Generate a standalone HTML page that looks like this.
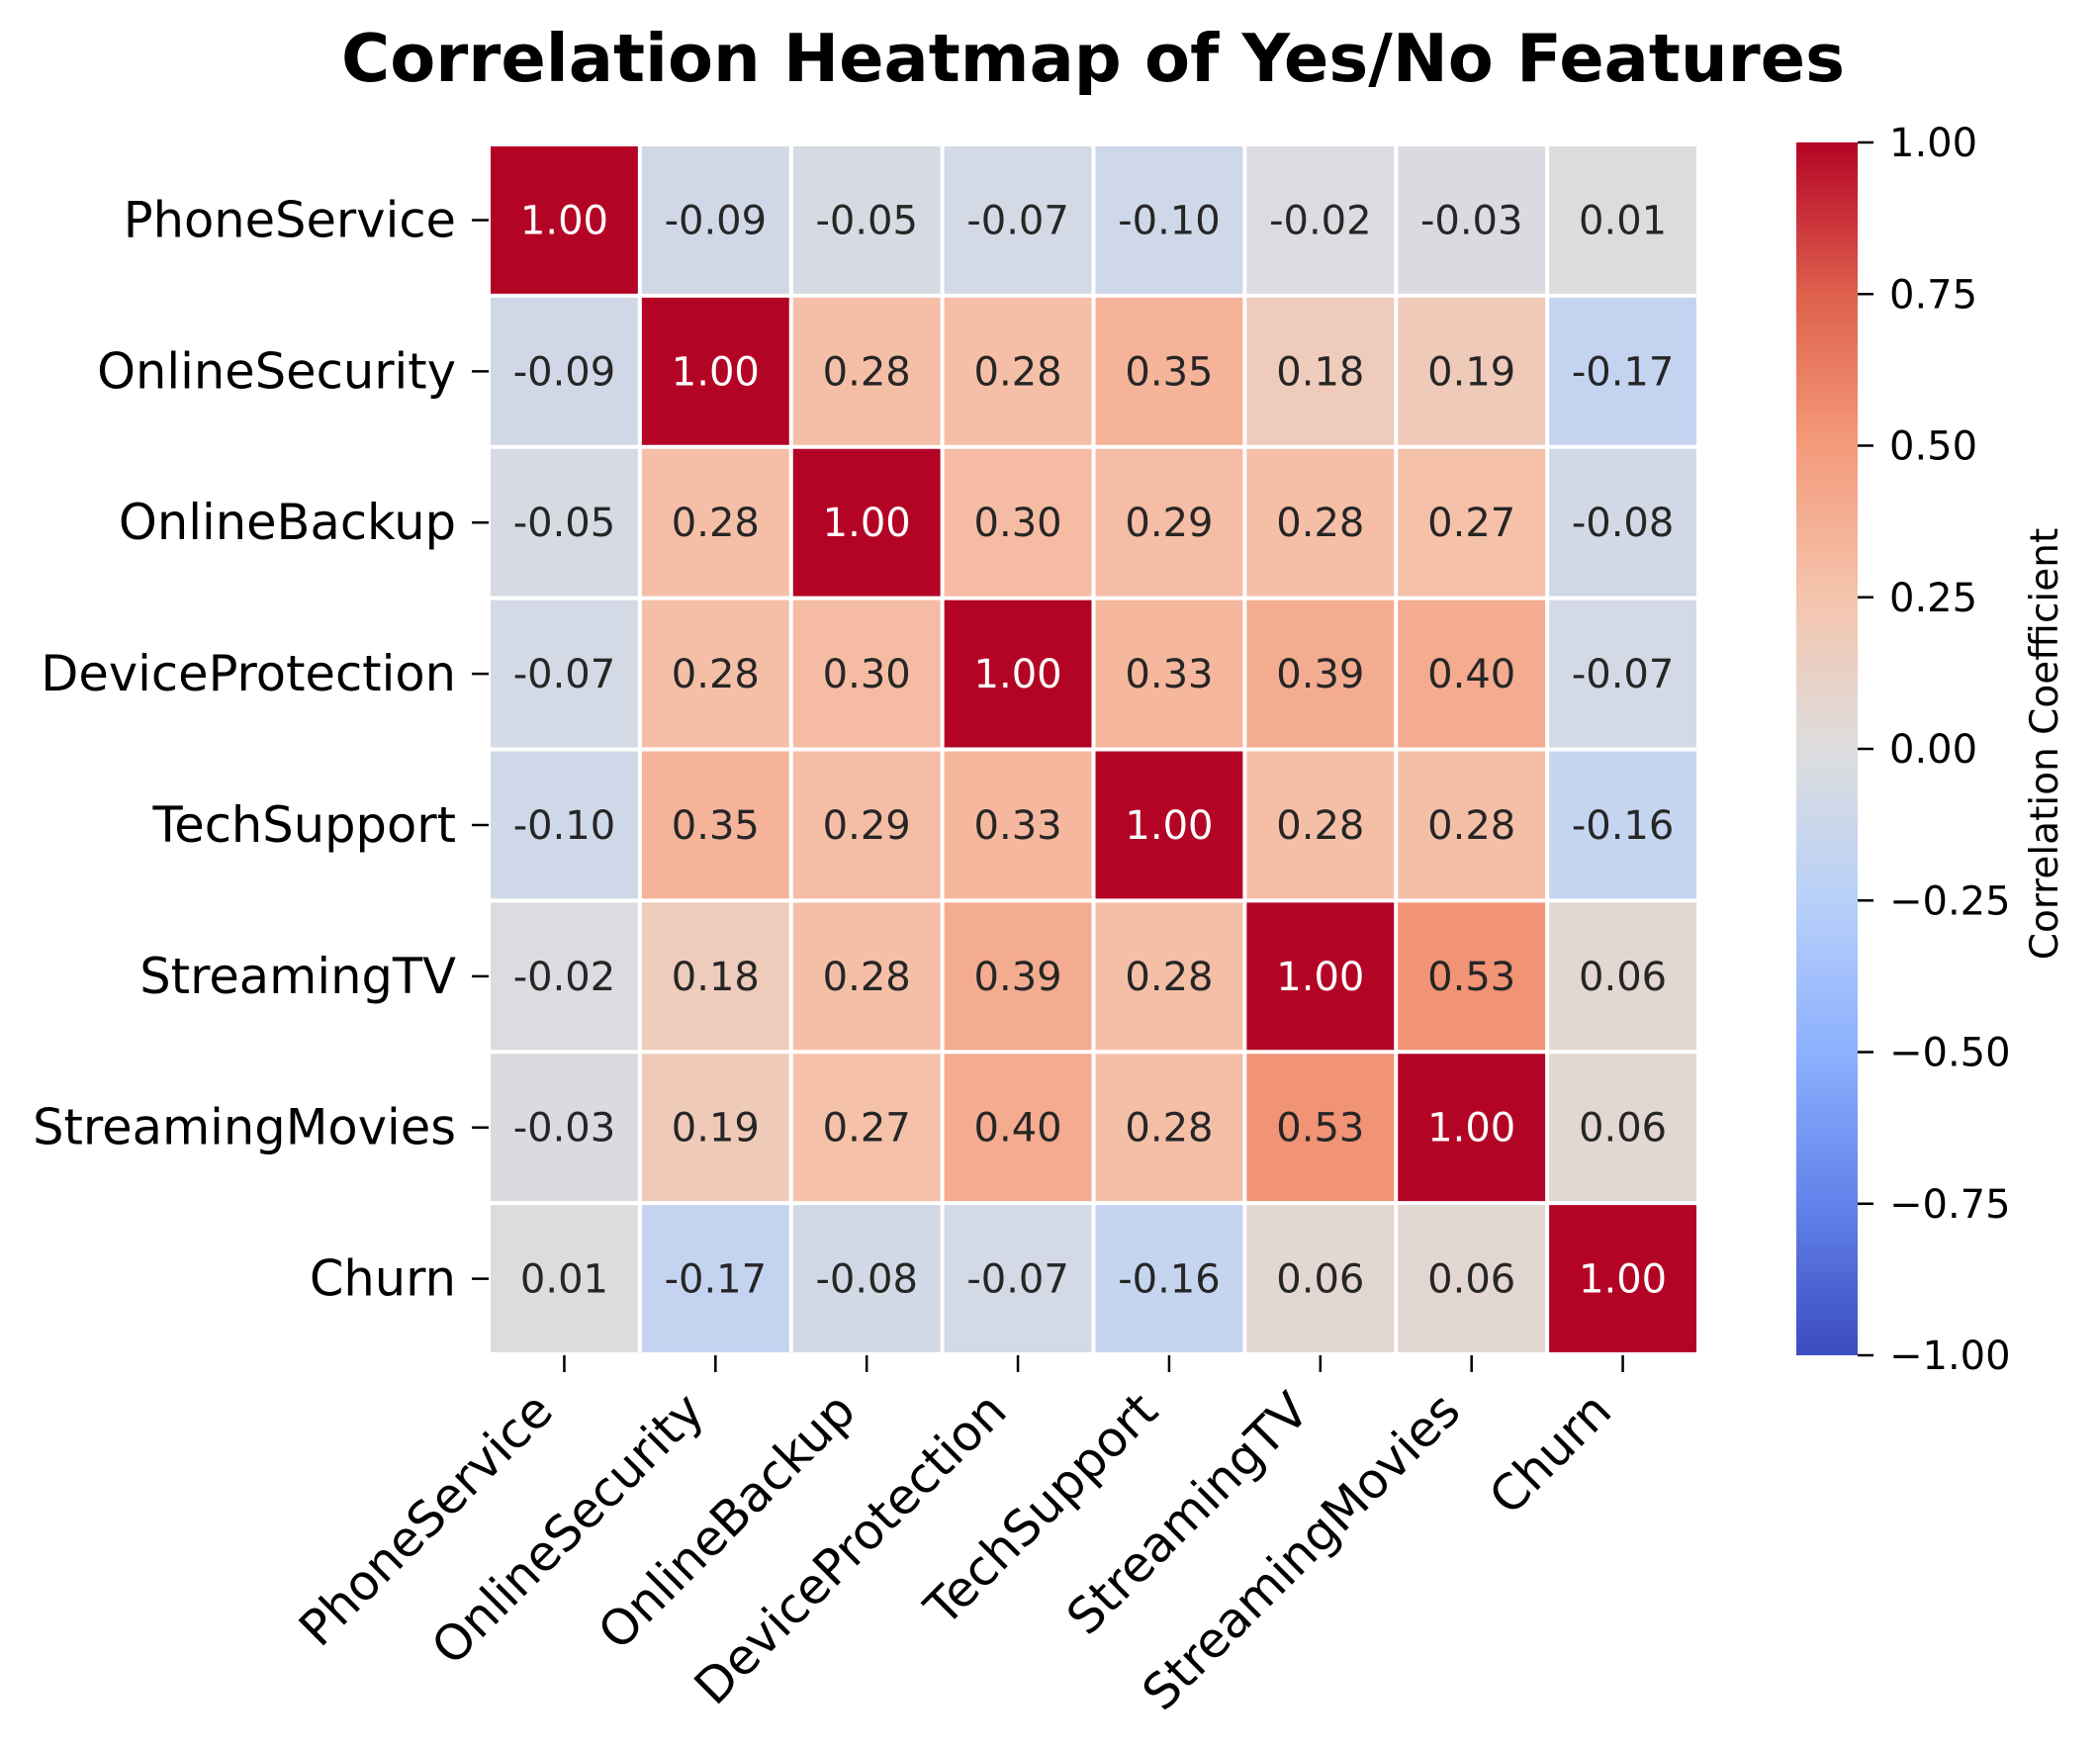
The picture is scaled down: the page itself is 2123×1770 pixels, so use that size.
<!DOCTYPE html>
<html><head><meta charset="utf-8"><style>
html,body{margin:0;padding:0;background:#fff;}
svg{display:block;font-family:"DejaVu Sans","Liberation Sans",sans-serif;}
</style></head><body>
<svg id="chart" width="2123" height="1770" viewBox="0 0 2123 1770" xmlns="http://www.w3.org/2000/svg">
<defs>
<linearGradient id="cbgrad" x1="0" y1="1" x2="0" y2="0">
<stop offset="0" stop-color="rgb(59,76,192)"/>
<stop offset="0.125" stop-color="rgb(98,130,234)"/>
<stop offset="0.25" stop-color="rgb(141,176,254)"/>
<stop offset="0.375" stop-color="rgb(184,208,249)"/>
<stop offset="0.5" stop-color="rgb(221,221,221)"/>
<stop offset="0.625" stop-color="rgb(245,196,173)"/>
<stop offset="0.75" stop-color="rgb(244,154,123)"/>
<stop offset="0.875" stop-color="rgb(222,96,77)"/>
<stop offset="1" stop-color="rgb(180,4,38)"/>
</linearGradient>
</defs>
<text x="1105" y="82" text-anchor="middle" font-size="67" font-weight="bold">Correlation Heatmap of Yes/No Features</text>
<g id="cells"></g>
<g id="ylabels"></g>
<g id="xlabels"></g>
<rect x="1816" y="144" width="62" height="1226" fill="url(#cbgrad)"/>
<g id="cbticks"></g>
<text transform="translate(2080,752) rotate(-90)" text-anchor="middle" font-size="39">Correlation Coefficient</text>
</svg>
<script>
const categories = ["PhoneService","OnlineSecurity","OnlineBackup","DeviceProtection","TechSupport","StreamingTV","StreamingMovies","Churn"];
const row0 = [1.00,-0.09,-0.05,-0.07,-0.10,-0.02,-0.03,0.01];
const row1 = [-0.09,1.00,0.28,0.28,0.35,0.18,0.19,-0.17];
const row2 = [-0.05,0.28,1.00,0.30,0.29,0.28,0.27,-0.08];
const row3 = [-0.07,0.28,0.30,1.00,0.33,0.39,0.40,-0.07];
const row4 = [-0.10,0.35,0.29,0.33,1.00,0.28,0.28,-0.16];
const row5 = [-0.02,0.18,0.28,0.39,0.28,1.00,0.53,0.06];
const row6 = [-0.03,0.19,0.27,0.40,0.28,0.53,1.00,0.06];
const row7 = [0.01,-0.17,-0.08,-0.07,-0.16,0.06,0.06,1.00];
const matrix = [row0,row1,row2,row3,row4,row5,row6,row7];
const cbTicks = [1.00,0.75,0.50,0.25,0.00,-0.25,-0.50,-0.75,-1.00];

const NS="http://www.w3.org/2000/svg";
const X0=494, Y0=146, SIZE=1223, n=categories.length, cell=SIZE/n;
const CB_TOP=144, CB_BOT=1370;
function xPos(i){return X0+i*cell;}
function yPos(i){return Y0+i*cell;}
function cbY(v){return CB_BOT-(v+1)/2*(CB_BOT-CB_TOP);}
const stops=[[59,76,192],[98,130,234],[141,176,254],[184,208,249],[221,221,221],[245,196,173],[244,154,123],[222,96,77],[180,4,38]];
function cmap(v){
  let t=Math.max(0,Math.min(1,(v+1)/2))*8;
  let i=Math.min(7,Math.floor(t)), f=t-i;
  const a=stops[i],b=stops[i+1];
  return [0,1,2].map(k=>Math.round(a[k]+(b[k]-a[k])*f));
}
function mk(tag,attrs,parent){const e=document.createElementNS(NS,tag);for(const k in attrs)e.setAttribute(k,attrs[k]);parent.appendChild(e);return e;}
const gC=document.getElementById('cells');
matrix.forEach((row,r)=>{
  row.forEach((v,c)=>{
    const col=cmap(v);
    const rect=mk('rect',{x:xPos(c)+2,y:yPos(r)+2,width:cell-4,height:cell-4,fill:`rgb(${col.join(',')})`},gC);
    
    
    const lum=(0.299*col[0]+0.587*col[1]+0.114*col[2])/255;
    const t=mk('text',{x:xPos(c)+cell/2,y:yPos(r)+cell/2+14,'text-anchor':'middle','font-size':40,fill:lum<0.55?'#fff':'#262626'},gC);
    
    
    t.textContent=v.toFixed(2);
  });
});
const gY=document.getElementById('ylabels');
categories.forEach((c,i)=>{
  const cy=yPos(i)+cell/2;
  const tk=mk('line',{x1:477,x2:494,y1:cy,y2:cy,stroke:'#000','stroke-width':2.5},gY);
  
  
  const t=mk('text',{x:461,y:cy+17,'text-anchor':'end','font-size':49.5},gY);
  
  
  t.textContent=c;
});
const gX=document.getElementById('xlabels');
categories.forEach((c,i)=>{
  const cx=xPos(i)+cell/2;
  const tk=mk('line',{x1:cx,x2:cx,y1:1370,y2:1387,stroke:'#000','stroke-width':2.5},gX);
  
  
  const ex=cx-9, ey=1429;
  const t=mk('text',{x:0,y:0,'text-anchor':'end','font-size':49.5,transform:`translate(${ex},${ey}) rotate(-45)`},gX);
  
  
  t.textContent=c;
});
const gT=document.getElementById('cbticks');
cbTicks.forEach(v=>{
  const y=cbY(v);
  const tk=mk('line',{x1:1878,x2:1894,y1:y,y2:y,stroke:'#000','stroke-width':2.5},gT);
  
  
  const t=mk('text',{x:1910,y:y+14,'font-size':40},gT);
  
  
  t.textContent=(v<0?'\u2212':'')+Math.abs(v).toFixed(2);
});
</script>
</body></html>
